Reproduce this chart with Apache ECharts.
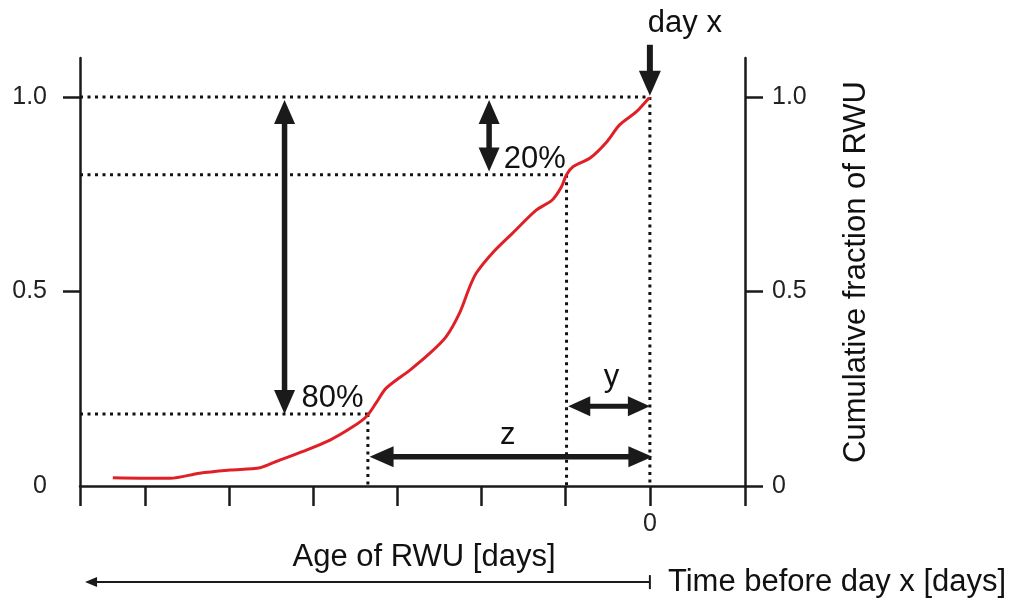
<!DOCTYPE html>
<html>
<head>
<meta charset="utf-8">
<script src="https://cdn.jsdelivr.net/npm/echarts@6/dist/echarts.min.js"></script>
<style>
  html, body { margin: 0; padding: 0; background: #fff; }
  #chart { width: 1018px; height: 605px; }
</style>
</head>
<body>
<div id="chart"></div>
<script>
// 曲线: 距 day x 的天数 (向左增大) 和累积比例
var rwuAge = [6.38, 6.06, 5.70, 5.35, 4.99, 4.63, 4.44, 4.12, 3.80, 3.53, 3.37, 3.25, 3.13, 2.85, 2.61,
  2.42, 2.26, 2.14, 2.06, 1.87, 1.63, 1.35, 1.16, 1.05, 0.99, 0.91, 0.71, 0.51, 0.36, 0.16, 0];
var rwuFraction = [0.021, 0.020, 0.020, 0.033, 0.041, 0.047, 0.063, 0.089, 0.118, 0.152, 0.178, 0.214, 0.252,
  0.298, 0.342, 0.384, 0.445, 0.512, 0.548, 0.599, 0.650, 0.709, 0.735, 0.769, 0.800, 0.821, 0.843, 0.885,
  0.928, 0.962, 1.0];

var xMin = -1.13, xMax = 6.77;
var xTicks = [-1.13, 0, 1, 2, 3, 4, 5, 6, 6.77];
var xLabels = [0];
var yTicksLeft = [0.5, 1];
var yTicksRight = [0, 0.5, 1];
var yLabels = [0, 0.5, 1];

// 关键点
var zAge = 3.35, zFrac = 0.185;   // 80% 处
var yAge = 0.99, yFrac = 0.8;     // 20% 处

// 虚线 [x1, y1, x2, y2]
var guides = [
  [xMax, 1, 0, 1],
  [xMax, yFrac, yAge, yFrac],
  [xMax, zFrac, zAge, zFrac],
  [zAge, zFrac, zAge, 0],
  [yAge, yFrac, yAge, 0],
  [0, 1, 0, 0]
];

// 箭头 [x1, y1, x2, y2, 起点箭头, 终点箭头]
var arrows = [
  [4.34, 0.992, 4.34, zFrac, 1, 1],
  [1.91, 0.992, 1.91, 0.808, 1, 1],
  [3.33, 0.075, -0.03, 0.075, 1, 1],
  [0.97, 0.205, 0, 0.205, 1, 1],
  [0, 1.134, 0, 1.003, 0, 1]
];
var arrowSize = [  // [箭头长, 半宽, 线宽]
  [24, 10.5, 5.5], [24, 10.5, 5.5], [24, 10.5, 5.5], [22, 10, 5], [25, 11, 6]
];

// 底部时间箭头
var timeArrow = [6.71, -0.247, 0, -0.247];

// 文字 [x, y, 文本, 对齐]
var notes = [
  [1.366, 0.838, '20%', 'center'],
  [3.77, 0.226, '80%', 'center'],
  [0.455, 0.278, 'y', 'center'],
  [1.687, 0.131, 'z', 'center'],
  [-0.416, 1.19, 'day x', 'center'],
  [-0.214, -0.247, 'Time before day x [days]', 'left']
];

var FONT = '"Liberation Sans", Arial, Helvetica, sans-serif';
var INK = '#1a1a1a';

function fmtY(v) {
  if (v === 0) return '0';
  return v.toFixed(1);
}

function triangle(tip, ux, uy, hl, hw) {
  var bx = tip[0] - ux * hl, by = tip[1] - uy * hl;
  return {
    type: 'polygon',
    shape: { points: [tip, [bx - uy * hw, by + ux * hw], [bx + uy * hw, by - ux * hw]] },
    style: { fill: INK }
  };
}

function renderArrow(params, api) {
  var a = arrows[params.dataIndex], sz = arrowSize[params.dataIndex];
  var p1 = api.coord([a[0], a[1]]), p2 = api.coord([a[2], a[3]]);
  var dx = p2[0] - p1[0], dy = p2[1] - p1[1];
  var len = Math.sqrt(dx * dx + dy * dy);
  var ux = dx / len, uy = dy / len;
  var s = p1, e = p2, kids = [];
  if (a[4]) {
    s = [p1[0] + ux * sz[0] * 0.8, p1[1] + uy * sz[0] * 0.8];
    kids.push(triangle(p1, -ux, -uy, sz[0], sz[1]));
  }
  if (a[5]) {
    e = [p2[0] - ux * sz[0] * 0.8, p2[1] - uy * sz[0] * 0.8];
    kids.push(triangle(p2, ux, uy, sz[0], sz[1]));
  }
  kids.unshift({
    type: 'line',
    shape: { x1: s[0], y1: s[1], x2: e[0], y2: e[1] },
    style: { stroke: INK, lineWidth: sz[2] }
  });
  return { type: 'group', children: kids };
}

function renderGuide(params, api) {
  var p1 = api.coord([api.value(0), api.value(1)]);
  var p2 = api.coord([api.value(2), api.value(3)]);
  return {
    type: 'line',
    shape: { x1: p1[0], y1: p1[1], x2: p2[0], y2: p2[1] },
    style: { stroke: '#111', lineWidth: 3, lineDash: [3, 4.5], lineCap: 'butt' }
  };
}

function renderTimeArrow(params, api) {
  var p1 = api.coord([api.value(0), api.value(1)]);
  var p2 = api.coord([api.value(2), api.value(3)]);
  return {
    type: 'group',
    children: [
      { type: 'line', shape: { x1: p1[0] + 8, y1: p1[1], x2: p2[0], y2: p2[1] },
        style: { stroke: INK, lineWidth: 2 } },
      triangle(p1, -1, 0, 12, 5),
      { type: 'line', shape: { x1: p2[0], y1: p2[1] - 7, x2: p2[0], y2: p2[1] + 7 },
        style: { stroke: INK, lineWidth: 2 } }
    ]
  };
}

function renderNote(params, api) {
  var n = notes[params.dataIndex];
  var p = api.coord([n[0], n[1]]);
  return {
    type: 'text',
    x: p[0], y: p[1],
    style: { text: n[2], fontSize: 31, fontFamily: FONT, fill: '#111', align: n[3], verticalAlign: 'middle' }
  };
}

var curveData = rwuAge.map(function (x, i) { return [x, rwuFraction[i]]; });

var myChart = echarts.init(document.getElementById('chart'));

var yAxisBase = {
  type: 'value', min: 0, max: 1.1,
  axisLine: { show: true, onZero: false, lineStyle: { color: INK, width: 2.5 } },
  axisLabel: { customValues: yLabels, fontSize: 25, color: '#222', fontFamily: FONT, formatter: fmtY },
  splitLine: { show: false }
};

var option = {
  animation: false,
  backgroundColor: '#fff',
  grid: { left: 80, right: 273, top: 58, bottom: 119, outerBoundsMode: 'none' },
  xAxis: {
    type: 'value', inverse: true, min: xMin, max: xMax,
    name: 'Age of RWU [days]', nameLocation: 'middle', nameGap: 51,
    nameTextStyle: { fontSize: 31, color: '#111', fontFamily: FONT, padding: [0, 0, 0, 23] },
    axisLine: { show: true, onZero: false, lineStyle: { color: INK, width: 2.5 } },
    axisTick: { show: true, length: 20, customValues: xTicks, lineStyle: { color: INK, width: 2.5 } },
    axisLabel: { customValues: xLabels, margin: 26, fontSize: 25, color: '#222', fontFamily: FONT },
    splitLine: { show: false }
  },
  yAxis: [
    Object.assign({}, yAxisBase, {
      position: 'left',
      axisTick: { show: true, length: 17, customValues: yTicksLeft, lineStyle: { color: INK, width: 2.5 } },
      axisLabel: Object.assign({}, yAxisBase.axisLabel, { margin: 33 })
    }),
    Object.assign({}, yAxisBase, {
      position: 'right',
      name: 'Cumulative fraction of RWU', nameLocation: 'middle', nameRotate: 90, nameGap: 96,
      nameTextStyle: { fontSize: 31, color: '#111', fontFamily: FONT },
      axisTick: { show: true, length: 18, customValues: yTicksRight, lineStyle: { color: INK, width: 2.5 } },
      axisLabel: Object.assign({}, yAxisBase.axisLabel, { margin: 27 })
    })
  ],
  series: [
    {
      type: 'custom', name: 'guides', renderItem: renderGuide,
      encode: { x: [0, 2], y: [1, 3] }, data: guides, silent: true, z: 1
    },
    {
      type: 'line', name: 'RWU', data: curveData, showSymbol: false, smooth: 0.3,
      lineStyle: { color: '#df2027', width: 3 }, z: 3
    },
    {
      type: 'custom', name: 'arrows', renderItem: renderArrow,
      encode: { x: [0, 2], y: [1, 3] }, data: arrows.map(function (a) { return a.slice(0, 4); }),
      silent: true, z: 4
    },
    {
      type: 'custom', name: 'time', renderItem: renderTimeArrow,
      encode: { x: [0, 2], y: [1, 3] }, data: [timeArrow], silent: true, z: 4
    },
    {
      type: 'custom', name: 'notes', renderItem: renderNote,
      encode: { x: 0, y: 1 }, data: notes.map(function (n) { return [n[0], n[1]]; }),
      silent: true, z: 5
    }
  ]
};

myChart.setOption(option);
</script>
</body>
</html>
